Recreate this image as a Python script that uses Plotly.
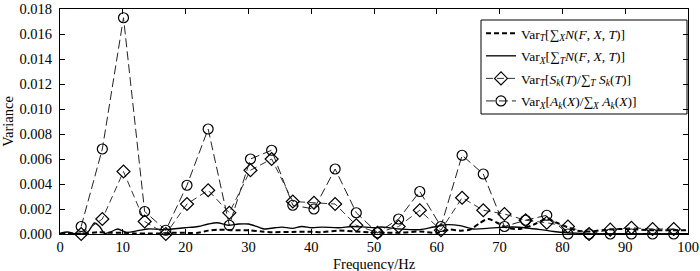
import plotly.graph_objects as go

# Marker series (frequencies k * 3.37 Hz)
freq_k = [3.37, 6.74, 10.11, 13.48, 16.85, 20.22, 23.59, 26.96, 30.33, 33.70,
          37.07, 40.44, 43.81, 47.18, 50.55, 53.92, 57.29, 60.66, 64.03, 67.40,
          70.77, 74.14, 77.51, 80.88, 84.25, 87.62, 90.99, 94.36, 97.73]
var_S = [0.0000, 0.0012, 0.0050, 0.0010, 0.0000, 0.0024, 0.0035, 0.0017, 0.0051, 0.0060,
         0.0026, 0.0025, 0.0024, 0.0007, 0.0001, 0.0006, 0.0019, 0.0003, 0.0029, 0.0019,
         0.0016, 0.0011, 0.0009, 0.0006, 0.0000, 0.00035, 0.0005, 0.0004, 0.0004]
var_A = [0.0006, 0.0068, 0.0173, 0.0018, 0.0003, 0.0039, 0.0084, 0.0007, 0.0060, 0.0067,
         0.0023, 0.0020, 0.0052, 0.0017, 0.0001, 0.0012, 0.0034, 0.0006, 0.0063, 0.0048,
         0.0006, 0.0011, 0.0015, 0.0000, 0.0000, 0.0000, 0.0000, 0.0000, 0.0000]

# Continuous curves
freq_solid = [0, 1.2, 2.3, 3.5, 4.5, 5.5, 6.3, 7.1, 8.2, 9.2, 10.6, 12.4, 14, 15.5, 16.7,
              18.3, 19.9, 22, 23.6, 25, 26.8, 28.4, 30, 31.6, 32.6, 34.2, 35.4, 37, 38.5,
              40.1, 41.7, 44.4, 46.5, 48.6, 50.2, 51, 54.2, 57.3, 59.5, 61.6, 63.7, 65.8,
              68, 70.1, 72.2, 74.3, 76.5, 78.6, 80.7, 83, 86, 90, 94, 97, 100]
var_X_N = [0.00005, 0.00016, 0.00002, 0.0, 0.0002, 0.00088, 0.0006, 0.00005, 0.0002, 0.0004,
           0.00013, 0.00027, 0.0004, 0.00038, 0.00035, 0.00042, 0.0005, 0.0006, 0.0008, 0.0009,
           0.0007, 0.0008, 0.0008, 0.00055, 0.0004, 0.0005, 0.00055, 0.00045, 0.0006, 0.0005,
           0.00055, 0.0005, 0.0006, 0.00055, 0.0005, 0.00056, 0.0004, 0.00035, 0.00056, 0.00075,
           0.00067, 0.0004, 0.00045, 0.00053, 0.00056, 0.00048, 0.00035, 0.0002, 0.0001, 0.00005,
           0.00003, 0.00003, 0.00003, 0.00003, 0.00003]

freq_dash = [0, 2, 4, 6, 8, 10, 12, 14, 16, 18.3, 22, 23.6, 25.2, 27.3, 30, 32.1, 33.8, 37,
             40.1, 41.7, 44.4, 47, 49.7, 51, 54.2, 57.3, 60, 62.1, 63.7, 65.3, 66.9, 68.2,
             69.6, 71.2, 73.3, 75.4, 77.5, 79.1, 80.7, 82.3, 84.4, 87, 90.3, 94, 97.2, 100]
var_T_N = [0.00002, 0.00005, 0.00005, 0.00015, 0.0001, 0.0001, 0.00005, 0.00005, 0.00005, 0.0001,
           0.0001, 0.00027, 0.00035, 0.0003, 0.0003, 0.0002, 0.00015, 0.00017, 0.00018, 0.00015,
           0.00027, 0.0002, 0.00013, 0.0001, 0.0001, 0.0002, 0.0001, 0.00035, 0.00027, 0.00035,
           0.0009, 0.0012, 0.0009, 0.0005, 0.0004, 0.00075, 0.0012, 0.0009, 0.00056, 0.00027,
           0.0002, 0.00035, 0.0004, 0.0003, 0.0003, 0.0003]

x_ticks = [0, 10, 20, 30, 40, 50, 60, 70, 80, 90, 100]
y_ticks = [0.000, 0.002, 0.004, 0.006, 0.008, 0.010, 0.012, 0.014, 0.016, 0.018]

names = [
    "Var<sub><i>T</i></sub>[∑<sub><i>X</i></sub><i>N</i>(<i>F</i>, <i>X</i>, <i>T</i>)]",
    "Var<sub><i>X</i></sub>[∑<sub><i>T</i></sub><i>N</i>(<i>F</i>, <i>X</i>, <i>T</i>)]",
    "Var<sub><i>T</i></sub>[<i>S<sub>k</sub></i>(<i>T</i>)/∑<sub><i>T</i></sub> <i>S<sub>k</sub></i>(<i>T</i>)]",
    "Var<sub><i>X</i></sub>[<i>A<sub>k</sub></i>(<i>X</i>)/∑<sub><i>X</i></sub> <i>A<sub>k</sub></i>(<i>X</i>)]",
]

FONT = "Times New Roman, Liberation Serif, Tinos, serif"

fig = go.Figure()
fig.add_trace(go.Scatter(x=freq_dash, y=var_T_N, mode="lines", name=names[0], legendgroup="a",
                         line=dict(color="black", width=2, dash="5px,3px", shape="spline", smoothing=0.8)))
fig.add_trace(go.Scatter(x=freq_solid, y=var_X_N, mode="lines", name=names[1], legendgroup="b",
                         line=dict(color="black", width=1.3, shape="spline", smoothing=0.8)))
fig.add_trace(go.Scatter(x=freq_k, y=var_S, mode="lines+markers", name=names[2], cliponaxis=False,
                         legendgroup="c",
                         line=dict(color="#333333", width=1, dash="7px,4px"),
                         marker=dict(symbol="diamond-open", size=10, color="black", line=dict(width=1.2))))
fig.add_trace(go.Scatter(x=freq_k, y=var_A, mode="lines+markers", name=names[3], cliponaxis=False,
                         legendgroup="d",
                         line=dict(color="#222222", width=1, dash="9px,4px"),
                         marker=dict(symbol="circle-open", size=10, color="black", line=dict(width=1.2))))

axis_common = dict(showline=True, linecolor="black", linewidth=1, mirror="ticks",
                   ticks="inside", ticklen=5, tickcolor="black", tickwidth=1,
                   showgrid=False, zeroline=False, automargin=False,
                   tickfont=dict(family=FONT, size=14.5, color="black"))

L, R, T, B = 60, 688, 9, 234
def px_x(p):
    return (p - L) / (R - L)
def px_y(p):
    return (B - p) / (B - T)

fig.update_layout(
    width=700, height=271,
    margin=dict(l=L, r=700 - R, t=T, b=271 - B),
    paper_bgcolor="white", plot_bgcolor="white",
    font=dict(family=FONT, size=14, color="black"),
    showlegend=True,
    legend=dict(x=px_x(481), y=px_y(18), xanchor="left", yanchor="top",
                borderwidth=0, bgcolor="rgba(0,0,0,0)",
                font=dict(family=FONT, size=13.5, color="black"),
                tracegroupgap=2, itemwidth=30),
    xaxis=dict(range=[0, 100], tickvals=x_ticks, ticktext=[str(v) for v in x_ticks],
               ticklabelstandoff=0, **axis_common),
    yaxis=dict(range=[0, 0.018], tickvals=y_ticks, ticktext=[f"{v:.3f}" for v in y_ticks],
               title=dict(text="Variance", font=dict(family=FONT, size=14.5), standoff=4),
               ticklabelstandoff=4, **axis_common),
    shapes=[dict(type="rect", xref="paper", yref="paper",
                 x0=px_x(481), x1=px_x(687), y0=px_y(114), y1=px_y(20),
                 line=dict(color="black", width=1), fillcolor="rgba(0,0,0,0)", layer="above")],
    annotations=[dict(text="Frequency/Hz", xref="paper", yref="paper", x=0.5, y=0,
                      xanchor="center", yanchor="top", yshift=-20, showarrow=False,
                      font=dict(family=FONT, size=14.5, color="black"))],
)

fig.write_html("out.html", config={"displayModeBar": False},
               post_script="document.body.style.margin='0';document.body.style.overflow='hidden';")
